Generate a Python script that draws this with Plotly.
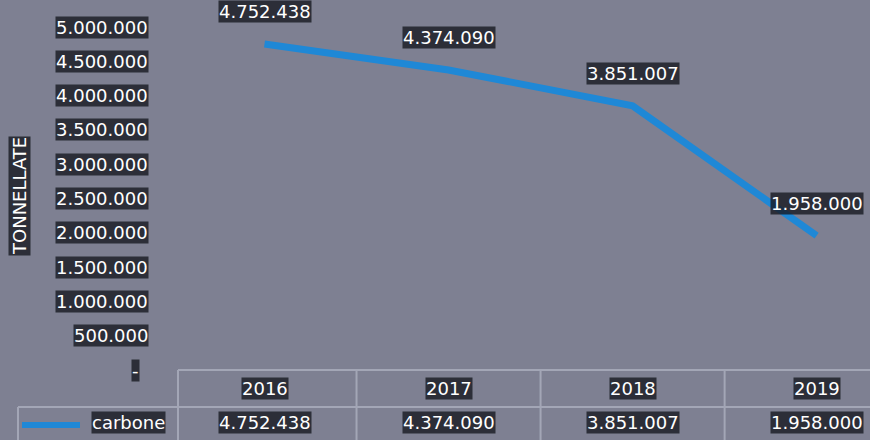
import plotly.graph_objects as go

# ---- data ----
years = ["2016", "2017", "2018", "2019"]
carbone = [4752438, 4374090, 3851007, 1958000]
series_name = "carbone"
y_title = "TONNELLATE"
y_ticks = [0, 500000, 1000000, 1500000, 2000000, 2500000, 3000000, 3500000, 4000000, 4500000, 5000000]


def fmt(v):
    return f"{v:,}".replace(",", ".")


# ---- style ----
BG = "#7e8092"
LINE = "#1f88d6"
GRID = "#a3a6b6"
FONT = "DejaVu Sans"
TXT_BG = "rgba(24,25,34,0.8)"
W, H = 870, 440
ML, MR, MT, MB = 178, 0, 27, 70
PH = H - MT - MB


def py(ypix):
    return (H - MB - ypix) / PH


def pxp(xpix):
    return (xpix - ML) / (W - ML - MR)


def label(**kw):
    d = dict(showarrow=False, bgcolor=TXT_BG, borderpad=0,
             yanchor="middle", xanchor="center",
             font=dict(family=FONT, size=18, color="white"))
    d.update(kw)
    return d


xs = list(range(len(years)))

fig = go.Figure()
fig.add_trace(go.Scatter(
    x=xs, y=carbone, mode="lines",
    line=dict(color=LINE, width=7),
    name=series_name, showlegend=False, hoverinfo="skip",
))

annotations = []
# y tick labels
for v in y_ticks:
    if v == 0:
        annotations.append(label(x=pxp(140), y=v, xref="paper", yref="y", text="-",
                                 xanchor="right"))
    else:
        annotations.append(label(x=pxp(149), y=v, xref="paper", yref="y", text=fmt(v),
                                 xanchor="right"))

# data labels
for x, v in zip(xs, carbone):
    annotations.append(label(x=x, y=v, xref="x", yref="y", text=fmt(v), yshift=32))

# table header and values
for x, yr, v in zip(xs, years, carbone):
    annotations.append(label(x=x, y=py(388), xref="x", yref="paper", text=yr))
    annotations.append(label(x=x, y=py(423), xref="x", yref="paper", text=fmt(v)))

# legend key text
annotations.append(label(x=pxp(166), y=py(423), xref="paper", yref="paper",
                         text=series_name, xanchor="right"))

# y title
annotations.append(label(x=pxp(19), y=py(196), xref="paper", yref="paper",
                         text=y_title, textangle=-90,
                         font=dict(family=FONT, size=18, color="white")))

shapes = []
bw = 2
# horizontal lines
shapes.append(dict(type="line", xref="paper", yref="paper", x0=0, x1=1.05,
                   y0=py(370), y1=py(370), line=dict(color=GRID, width=bw)))
shapes.append(dict(type="line", xref="paper", yref="paper", x0=pxp(18), x1=1.05,
                   y0=py(407), y1=py(407), line=dict(color=GRID, width=bw)))
# vertical lines
shapes.append(dict(type="line", xref="paper", yref="paper", x0=0, x1=0,
                   y0=py(370), y1=py(445), line=dict(color=GRID, width=bw)))
shapes.append(dict(type="line", xref="paper", yref="paper", x0=pxp(18), x1=pxp(18),
                   y0=py(407), y1=py(445), line=dict(color=GRID, width=bw)))
for i in range(len(years) - 1):
    shapes.append(dict(type="line", xref="x", yref="paper", x0=i + 0.5, x1=i + 0.5,
                       y0=py(370), y1=py(445), line=dict(color=GRID, width=bw)))
# legend key line
shapes.append(dict(type="line", xref="paper", yref="paper", x0=pxp(22), x1=pxp(80),
                   y0=py(425), y1=py(425), line=dict(color=LINE, width=6)))

fig.update_layout(
    width=W, height=H,
    paper_bgcolor=BG, plot_bgcolor=BG,
    margin=dict(l=ML, r=MR, t=MT, b=MB),
    showlegend=False,
    xaxis=dict(range=[-0.47, 3.29], showticklabels=False, showgrid=False,
               zeroline=False, showline=False, fixedrange=True),
    yaxis=dict(range=[0, 5000000], showticklabels=False,
               showgrid=False, zeroline=False, showline=False, ticks=""),
    annotations=annotations,
    shapes=shapes,
)

fig.write_html(
    "out.html",
    config={"displayModeBar": False},
    post_script="document.body.style.margin='0';document.body.style.background='%s';" % BG,
)
